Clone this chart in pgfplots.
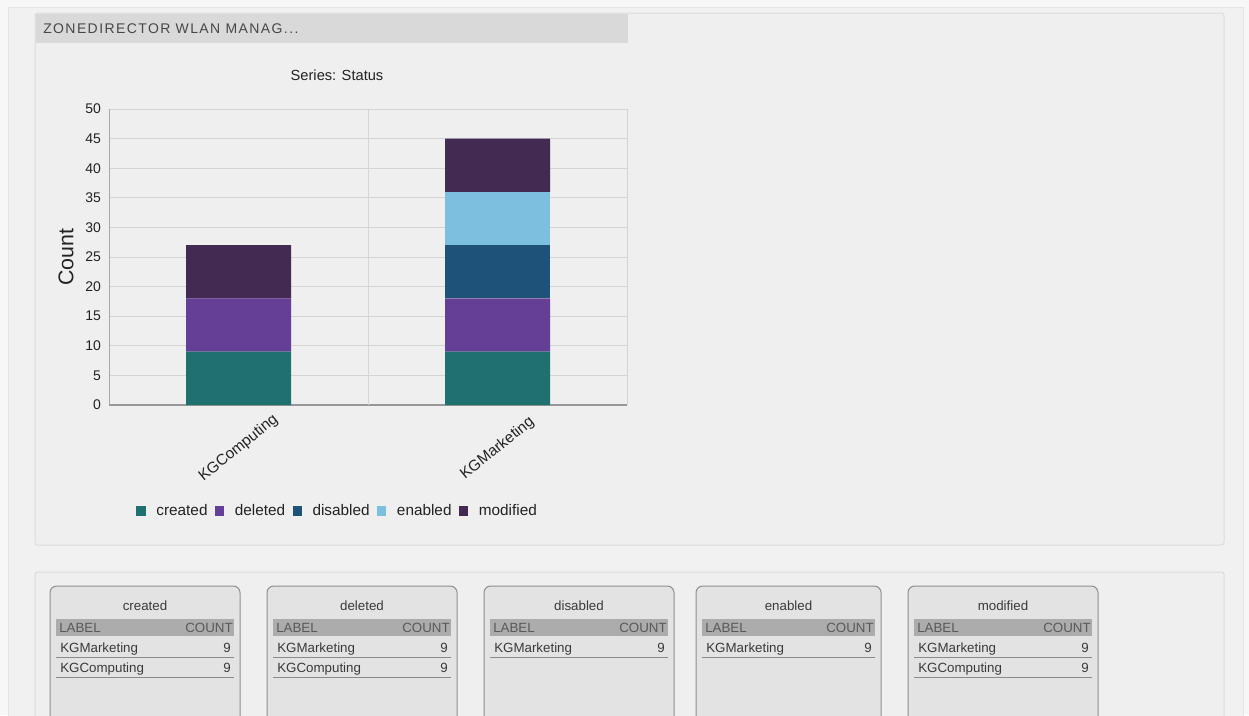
\documentclass[border=0pt]{standalone}
\usepackage{pgfplots}
\pgfplotsset{compat=1.18}
\usepackage{fontspec}
\setmainfont{Liberation Sans}
\newfontfamily\hdrfont[LetterSpace=10]{Liberation Sans}
\definecolor{pagebg}{HTML}{F7F7F7}
\definecolor{framebg}{HTML}{F1F1F1}
\definecolor{frameline}{HTML}{E4E4E4}
\definecolor{panelbg}{HTML}{EFEFEF}
\definecolor{panelline}{HTML}{DCDCDC}
\definecolor{hdrbg}{HTML}{D9D9D9}
\definecolor{hdrtext}{HTML}{474747}
\definecolor{txt}{HTML}{222222}
\definecolor{gridc}{HTML}{D4D4D4}
\definecolor{axisx}{HTML}{989898}
\definecolor{axisy}{HTML}{A8A8A8}
\definecolor{cardbg}{HTML}{E3E3E3}
\definecolor{cardline}{HTML}{8E8E8E}
\definecolor{cardhdr}{HTML}{ACACAC}
\definecolor{cardhdrtext}{HTML}{595959}
\definecolor{cardtext}{HTML}{3A3A3A}
\definecolor{rowline}{HTML}{8A8A8A}
\definecolor{cCreated}{HTML}{1F716F}
\definecolor{cDeleted}{HTML}{643F95}
\definecolor{cDisabled}{HTML}{1E5279}
\definecolor{cEnabled}{HTML}{7DBFDE}
\definecolor{cModified}{HTML}{432A53}
\newcommand\tfont{\fontsize{10}{12}\selectfont}
% #1 left x, #2 width, #3 title
\newcommand\card[3]{%
  \filldraw[fill=cardbg, draw=cardline, line width=0.75pt, rounded corners=5pt] (#1,586) rectangle ({#1+#2},740);
  \fill[cardhdr] ({#1+6},619) rectangle ({#1+#2-6},636);
  \node[inner sep=0pt, anchor=base, font=\tfont, text=cardtext] at ({#1+#2/2},610) {#3};
  \node[inner sep=0pt, anchor=base west, font=\tfont, text=cardhdrtext] at ({#1+9},632) {LABEL};
  \node[inner sep=0pt, anchor=base east, font=\tfont, text=cardhdrtext] at ({#1+#2-7},632) {COUNT};
}
% #1 left x, #2 width, #3 baseline y, #4 label, #5 value
\newcommand\crow[5]{%
  \node[inner sep=0pt, anchor=base west, font=\tfont, text=cardtext] at ({#1+10},#3) {#4};
  \node[inner sep=0pt, anchor=base east, font=\tfont, text=cardtext] at ({#1+#2-9},#3) {#5};
  \draw[rowline, line width=0.75pt] ({#1+6},{#3+5}) -- ({#1+#2-6},{#3+5});
}
\begin{document}
\begin{tikzpicture}
\begin{scope}[x=0.75pt,y=-0.75pt]
\useasboundingbox (0,0) rectangle (1249,715);
\fill[pagebg] (0,0) rectangle (1249,715);
\filldraw[fill=framebg, draw=frameline, line width=0.75pt] (8,7) rectangle (1243,730);
\filldraw[fill=panelbg, draw=panelline, line width=0.75pt, rounded corners=2pt] (35,13) rectangle (1224,545);
\fill[hdrbg] (35.5,13.5) rectangle (628,43);
\node[inner sep=0pt, anchor=base west, text=hdrtext, font=\hdrfont\fontsize{10.5}{12}\selectfont] at (43,33.5) {ZONEDIRECTOR WLAN MANAG...};
\node[inner sep=0pt, anchor=base, font=\fontsize{11}{13}\selectfont, text=txt] at (337,80.5) {Series: Status};
\filldraw[fill=panelbg, draw=panelline, line width=0.75pt, rounded corners=2pt] (35,572) rectangle (1224,740);
\card{50}{190}{created}
\crow{50}{190}{652}{KGMarketing}{9}
\crow{50}{190}{672}{KGComputing}{9}
\card{267}{190}{deleted}
\crow{267}{190}{652}{KGMarketing}{9}
\crow{267}{190}{672}{KGComputing}{9}
\card{484}{190}{disabled}
\crow{484}{190}{652}{KGMarketing}{9}
\card{696}{185}{enabled}
\crow{696}{185}{652}{KGMarketing}{9}
\card{908}{190}{modified}
\crow{908}{190}{652}{KGMarketing}{9}
\crow{908}{190}{672}{KGComputing}{9}
\end{scope}
\begin{axis}[
  at={(81.75pt,-303.75pt)}, anchor=south west,
  width=388.5pt, height=222pt, scale only axis,
  ybar stacked, bar width=78.75pt,
  xmin=-0.5, xmax=1.5, ymin=0, ymax=50,
  xtick={0,1}, xticklabels={KGComputing,KGMarketing},
  ytick={0,5,...,50},
  extra x ticks={0.5,1.5}, extra x tick labels={,},
  extra x tick style={xmajorgrids=true, major x grid style={draw=gridc, line width=0.75pt}},
  ymajorgrids, major grid style={draw=gridc, line width=0.75pt},
  axis x line*=bottom, axis y line*=left,
  axis line style={-},
  x axis line style={draw=axisx, line width=0.9pt},
  y axis line style={draw=axisy, line width=0.75pt},
  major tick length=0pt,
  tick label style={font=\fontsize{10.5}{12}\selectfont, text=txt},
  /pgf/number format/assume math mode=true,
  yticklabel style={xshift=-2.5pt},
  xticklabel style={yshift=-32.5pt, rotate=39, anchor=center, font=\fontsize{11.5}{13}\selectfont},
  ylabel={Count},
  ylabel style={at={(axis description cs:-0.083,0.5)}, anchor=center, font=\fontsize{16}{18}\selectfont, text=txt},
  legend columns=5,
  legend style={at={(axis description cs:0.442,-0.358)}, anchor=center, draw=none, fill=none,
    font=\fontsize{11.5}{13}\selectfont, text=txt,
    /tikz/every odd column/.append style={column sep=6pt},
    /tikz/every even column/.append style={column sep=3.5pt}},
  legend image code/.code={\fill[#1] (0pt,-3.5pt) rectangle (7pt,3.5pt);},
]
\addplot[fill=cCreated, draw=none] coordinates {(0,9) (1,9)};
\addlegendentry{created}
\addplot[fill=cDeleted, draw=none] coordinates {(0,9) (1,9)};
\addlegendentry{deleted}
\addplot[fill=cDisabled, draw=none] coordinates {(0,0) (1,9)};
\addlegendentry{disabled}
\addplot[fill=cEnabled, draw=none] coordinates {(0,0) (1,9)};
\addlegendentry{enabled}
\addplot[fill=cModified, draw=none] coordinates {(0,9) (1,9)};
\addlegendentry{modified}
\end{axis}
\end{tikzpicture}
\end{document}
